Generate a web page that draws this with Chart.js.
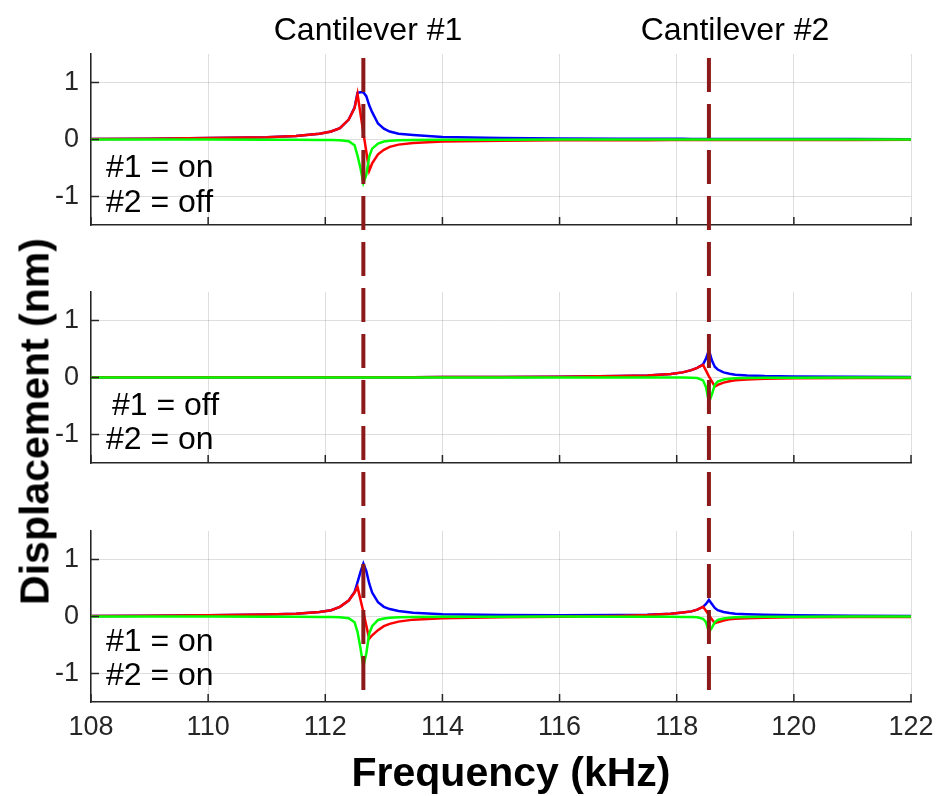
<!DOCTYPE html>
<html lang="en">
<head>
    <meta charset="UTF-8">
    <title>Cantilever response</title>
    <style>
        body {
            margin: 0;
            background: #fff;
            font-family: "Liberation Sans", Arial, Helvetica, sans-serif;
        }
        #wrap {
            position: relative;
            width: 944px;
            height: 796px;
            overflow: hidden;
        }
        canvas {
            position: absolute;
            left: 0;
        }
        .txt {
            position: absolute;
            line-height: 1;
            white-space: nowrap;
            color: #000;
        }
        .title { font-size: 32px; width: 300px; text-align: center; }
        .state { font-size: 32px; }
        .axis-title { font-size: 41px; font-weight: bold; width: 500px; text-align: center; }
    </style>
</head>
<body>
<div id="wrap">
    <canvas id="panel1" width="944" height="191" style="top:44px"></canvas>
    <canvas id="panel2" width="944" height="191" style="top:282px"></canvas>
    <canvas id="panel3" width="944" height="231" style="top:521px"></canvas>
    <canvas id="overlay" width="944" height="796" style="top:0"></canvas>

    <div class="txt title" style="left:218px; top:13px">Cantilever #1</div>
    <div class="txt title" style="left:585px; top:13px">Cantilever #2</div>

    <div class="txt state" style="left:106px; top:150px">#1 = on</div>
    <div class="txt state" style="left:106px; top:185px">#2 = off</div>
    <div class="txt state" style="left:112px; top:388px">#1 = off</div>
    <div class="txt state" style="left:106px; top:422px">#2 = on</div>
    <div class="txt state" style="left:106px; top:624px">#1 = on</div>
    <div class="txt state" style="left:106px; top:658px">#2 = on</div>

    <div class="txt axis-title" style="left:261px; top:752px">Frequency (kHz)</div>
    <div class="txt axis-title" style="left:-215px; top:401px; transform:rotate(-90deg)">Displacement (nm)</div>
</div>

<script src="https://cdn.jsdelivr.net/npm/chart.js"></script>
<script>
// frequency samples (kHz), shared by every curve
const freq = [108, 109, 110, 111, 111.5, 111.9, 112.1, 112.25, 112.4, 112.5,
    112.55, 112.6, 112.65, 112.7, 112.75, 112.8, 112.9, 113, 113.1, 113.25,
    113.5, 114, 115, 116, 117, 117.5, 117.9, 118.1, 118.25, 118.35,
    118.45, 118.5, 118.55, 118.6, 118.65, 118.7, 118.8, 118.9, 119, 119.2,
    119.5, 120, 121, 122];

// resonance markers (kHz)
const resonances = [112.65, 118.55];

const xTicks = [108, 110, 112, 114, 116, 118, 120, 122];
const yTicks = [-1, 0, 1];

// panel 1: #1 = on, #2 = off
const blue1 = [0.01, 0.015, 0.025, 0.04, 0.06, 0.1, 0.14, 0.2, 0.35, 0.56,
    0.82, 0.83, 0.83, 0.76, 0.6, 0.48, 0.28, 0.19, 0.14, 0.1,
    0.08, 0.045, 0.025, 0.018, 0.013, 0.012, 0.011, 0.011, 0.01, 0.01,
    0.01, 0.01, 0.01, 0.01, 0.01, 0.01, 0.01, 0.01, 0.009, 0.009,
    0.008, 0.008, 0.007, 0.006];
const red1 = [0.01, 0.015, 0.025, 0.04, 0.06, 0.1, 0.14, 0.2, 0.35, 0.55,
    0.8, 0.46, 0.12, -0.21, -0.55, -0.42, -0.26, -0.18, -0.13, -0.09,
    -0.06, -0.035, -0.02, -0.015, -0.012, -0.011, -0.01, -0.01, -0.01, -0.01,
    -0.01, -0.01, -0.01, -0.01, -0.01, -0.01, -0.01, -0.01, -0.009, -0.009,
    -0.008, -0.008, -0.007, -0.006];
const green1 = [0, 0, 0, -0.003, -0.005, -0.007, -0.01, -0.015, -0.03, -0.1,
    -0.28, -0.5, -0.76, -0.62, -0.3, -0.16, -0.07, -0.035, -0.02, -0.015,
    -0.01, -0.005, -0.003, 0, 0, 0, 0, 0, 0, 0,
    0, 0, 0, 0, 0, 0, 0, 0, 0, 0,
    0, 0, 0, 0];

// panel 2: #1 = off, #2 = on
const blue2 = [0.003, 0.003, 0.003, 0.003, 0.003, 0.004, 0.004, 0.004, 0.004, 0.004,
    0.004, 0.004, 0.004, 0.005, 0.005, 0.005, 0.005, 0.005, 0.006, 0.006,
    0.006, 0.008, 0.01, 0.015, 0.025, 0.035, 0.06, 0.09, 0.13, 0.17,
    0.23, 0.33, 0.48, 0.3, 0.19, 0.14, 0.09, 0.065, 0.05, 0.037,
    0.025, 0.017, 0.012, 0.01];
const red2 = [0.003, 0.003, 0.003, 0.003, 0.003, 0.004, 0.004, 0.004, 0.004, 0.004,
    0.004, 0.004, 0.004, 0.005, 0.005, 0.005, 0.005, 0.005, 0.006, 0.006,
    0.006, 0.008, 0.01, 0.015, 0.025, 0.035, 0.06, 0.09, 0.13, 0.17,
    0.22, 0.12, 0.02, -0.07, -0.16, -0.13, -0.09, -0.065, -0.05, -0.035,
    -0.022, -0.015, -0.01, -0.008];
const green2 = [0, 0, 0, 0, 0, 0, 0, 0, 0, 0,
    0, 0, 0, 0, 0, 0, 0, 0, 0, 0,
    0, 0, 0, 0, 0, 0, 0, 0, -0.005, -0.01,
    -0.05, -0.17, -0.43, -0.3, -0.13, -0.07, -0.035, -0.02, -0.015, -0.01,
    -0.005, -0.003, 0, 0];

// panel 3: #1 = on, #2 = on
const blue3 = [0.01, 0.015, 0.02, 0.035, 0.05, 0.08, 0.11, 0.17, 0.28, 0.43,
    0.6, 0.78, 0.93, 0.8, 0.58, 0.42, 0.25, 0.17, 0.13, 0.095,
    0.065, 0.04, 0.025, 0.02, 0.025, 0.03, 0.05, 0.07, 0.09, 0.12,
    0.17, 0.22, 0.29, 0.22, 0.15, 0.11, 0.08, 0.06, 0.05, 0.04,
    0.03, 0.02, 0.015, 0.01];
const red3 = [0.01, 0.015, 0.02, 0.035, 0.05, 0.08, 0.11, 0.17, 0.28, 0.42,
    0.52, 0.3, 0.08, -0.16, -0.39, -0.33, -0.24, -0.17, -0.13, -0.09,
    -0.055, -0.03, -0.015, -0.005, 0.01, 0.025, 0.05, 0.07, 0.09, 0.12,
    0.17, 0.1, 0.025, -0.05, -0.12, -0.1, -0.07, -0.05, -0.04, -0.03,
    -0.02, -0.015, -0.01, -0.008];
const green3 = [0, 0, 0, -0.003, -0.005, -0.007, -0.01, -0.012, -0.03, -0.1,
    -0.27, -0.55, -0.88, -0.65, -0.3, -0.17, -0.06, -0.035, -0.02, -0.015,
    -0.01, -0.005, -0.003, -0.002, -0.003, -0.004, -0.005, -0.007, -0.01, -0.015,
    -0.04, -0.1, -0.27, -0.2, -0.1, -0.06, -0.035, -0.02, -0.015, -0.01,
    -0.005, -0.003, 0, 0];

const axisColor = '#262626';
const gridColor = 'rgba(0, 0, 0, 0.13)';
const fontFamily = '"Liberation Sans", Arial, Helvetica, sans-serif';

function toPoints(values) {
    return freq.map((f, i) => ({ x: f, y: values[i] }));
}

// MATLAB style ticks pointing into the axes
const inwardTicks = {
    id: 'inwardTicks',
    afterDraw(chart) {
        const ctx = chart.ctx;
        const area = chart.chartArea;
        const x = chart.scales.x;
        const y = chart.scales.y;
        ctx.save();
        ctx.strokeStyle = axisColor;
        ctx.lineWidth = 1.5;
        ctx.beginPath();
        x.ticks.forEach(t => {
            const px = x.getPixelForValue(t.value);
            ctx.moveTo(px, area.bottom);
            ctx.lineTo(px, area.bottom - 8);
        });
        y.ticks.forEach(t => {
            const py = y.getPixelForValue(t.value);
            ctx.moveTo(area.left, py);
            ctx.lineTo(area.left + 8, py);
        });
        ctx.stroke();
        ctx.restore();
    }
};

function makePanel(id, blue, red, green, showFreq) {
    const lineStyle = { pointRadius: 0, borderWidth: 2.5, tension: 0, fill: false };
    new Chart(document.getElementById(id), {
        type: 'line',
        data: {
            datasets: [
                Object.assign({ data: toPoints(green), borderColor: '#00ff00' }, lineStyle),
                Object.assign({ data: toPoints(red), borderColor: '#ff0000' }, lineStyle),
                Object.assign({ data: toPoints(blue), borderColor: '#0000ff' }, lineStyle)
            ]
        },
        options: {
            responsive: false,
            animation: false,
            layout: { padding: { top: 10, right: 33, left: 0, bottom: 0 } },
            plugins: { legend: { display: false }, tooltip: { enabled: false } },
            scales: {
                x: {
                    type: 'linear',
                    min: 108,
                    max: 122,
                    afterBuildTicks: s => { s.ticks = xTicks.map(v => ({ value: v })); },
                    afterFit: s => {
                        s.height = showFreq ? 50 : 10;
                        s.paddingLeft = 0;
                        s.paddingRight = 0;
                    },
                    ticks: {
                        display: showFreq,
                        padding: 9,
                        color: axisColor,
                        maxRotation: 0,
                        font: { family: fontFamily, size: 27 }
                    },
                    grid: { color: gridColor, lineWidth: 1, drawTicks: false },
                    border: { color: axisColor, width: 1.5 }
                },
                y: {
                    type: 'linear',
                    min: -1.5,
                    max: 1.5,
                    afterBuildTicks: s => { s.ticks = yTicks.map(v => ({ value: v })); },
                    afterFit: s => {
                        s.width = 91;
                        s.paddingTop = 0;
                        s.paddingBottom = 0;
                    },
                    ticks: {
                        padding: 12,
                        color: axisColor,
                        font: { family: fontFamily, size: 27 }
                    },
                    grid: { color: gridColor, lineWidth: 1, drawTicks: false },
                    border: { color: axisColor, width: 1.5 }
                }
            }
        },
        plugins: [inwardTicks]
    });
}

makePanel('panel1', blue1, red1, green1, false);
makePanel('panel2', blue2, red2, green2, false);
makePanel('panel3', blue3, red3, green3, true);

// dashed resonance markers running through all three panels
new Chart(document.getElementById('overlay'), {
    type: 'line',
    data: {
        datasets: resonances.map(f => ({
            data: [{ x: f, y: 1 }, { x: f, y: 0 }],
            borderColor: '#8c1a1a',
            borderWidth: 4,
            borderDash: [34, 12],
            pointRadius: 0
        }))
    },
    options: {
        responsive: false,
        animation: false,
        layout: { padding: { top: 58, right: 33, left: 91, bottom: 96 } },
        plugins: { legend: { display: false }, tooltip: { enabled: false } },
        scales: {
            x: { type: 'linear', min: 108, max: 122, display: false },
            y: { type: 'linear', min: 0, max: 1, display: false }
        }
    }
});
</script>
</body>
</html>
